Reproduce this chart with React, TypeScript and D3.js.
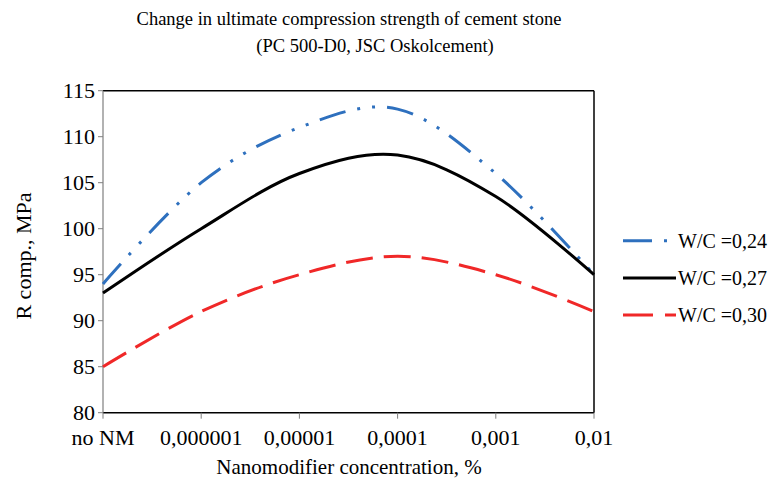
import React from "react";
import * as d3 from "d3";

const categories = ["no NM", "0,000001", "0,00001", "0,0001", "0,001", "0,01"];
const wc024 = [94, 105, 111, 113, 106, 95];
const wc027 = [93, 100, 106, 108, 103.5, 95];
const wc030 = [85, 91, 95, 97, 95, 91];
const yTicks = [80, 85, 90, 95, 100, 105, 110, 115];
const seriesNames = ["W/C =0,24", "W/C =0,27", "W/C =0,30"];

const W = 777, H = 486;
const left = 103, right = 594, top = 90.7, bottom = 412.7;

export default function App() {
  const x = d3.scalePoint<string>().domain(categories).range([left, right]);
  const y = d3.scaleLinear().domain([80, 115]).range([bottom, top]);
  const line = d3
    .line<number>()
    .x((_, i) => x(categories[i]) as number)
    .y((d) => y(d))
    .curve(d3.curveCardinal.tension(0));

  const series = [
    { name: seriesNames[0], data: wc024, color: "#2E70BE", dash: "27 12 3 12 3 12" },
    { name: seriesNames[1], data: wc027, color: "#000000", dash: "" },
    { name: seriesNames[2], data: wc030, color: "#F02828", dash: "27 11" },
  ];
  const font = "'Liberation Serif', 'Times New Roman', serif";

  return (
    <svg width={W} height={H} style={{ position: "absolute", left: 0, top: 0 }} fontFamily={font}>
      <rect x={0} y={0} width={W} height={H} fill="#fff" />
      <text x={349} y={25} textAnchor="middle" fontSize={18.5}>
        Change in ultimate compression strength of cement stone
      </text>
      <text x={375} y={52} textAnchor="middle" fontSize={18.5}>
        (PC 500-D0, JSC Oskolcement)
      </text>
      {/* plot border */}
      <line x1={left} x2={right} y1={top} y2={top} stroke="#000" strokeWidth={1.5} />
      <line x1={right} x2={right} y1={top} y2={bottom} stroke="#000" strokeWidth={1.5} />
      <line x1={left} x2={right} y1={bottom} y2={bottom} stroke="#000" strokeWidth={1.5} />
      <line x1={left} x2={left} y1={top} y2={bottom} stroke="#7f7f7f" strokeWidth={1.2} />
      {yTicks.map((t) => (
        <g key={t}>
          <line x1={left - 5} x2={left} y1={y(t)} y2={y(t)} stroke="#7f7f7f" />
          <text x={left - 8} y={y(t) + 7.5} textAnchor="end" fontSize={22}>
            {t}
          </text>
        </g>
      ))}
      {categories.map((c) => (
        <g key={c}>
          <line x1={x(c)} x2={x(c)} y1={bottom} y2={bottom + 6} stroke="#7f7f7f" />
          <text x={x(c)} y={445} textAnchor="middle" fontSize={22}>
            {c}
          </text>
        </g>
      ))}
      <text x={349} y={474} textAnchor="middle" fontSize={21}>
        Nanomodifier concentration, %
      </text>
      <text
        transform={`translate(31,256) rotate(-90)`}
        textAnchor="middle"
        fontSize={22}
      >
        R comp., MPa
      </text>
      {series.map((s) => (
        <path
          key={s.name}
          d={line(s.data) || ""}
          fill="none"
          stroke={s.color}
          strokeWidth={3}
          strokeDasharray={s.dash}
        />
      ))}
      {series.map((s, i) => {
        const ly = 240.7 + i * 37.2;
        return (
          <g key={s.name}>
            <line x1={623} x2={676} y1={ly} y2={ly} stroke={s.color} strokeWidth={3} strokeDasharray={s.dash ? (i === 0 ? "29 12 3 20" : "30 12") : ""} />
            <text x={678} y={ly + 7} fontSize={20}>
              {s.name}
            </text>
          </g>
        );
      })}
    </svg>
  );
}
